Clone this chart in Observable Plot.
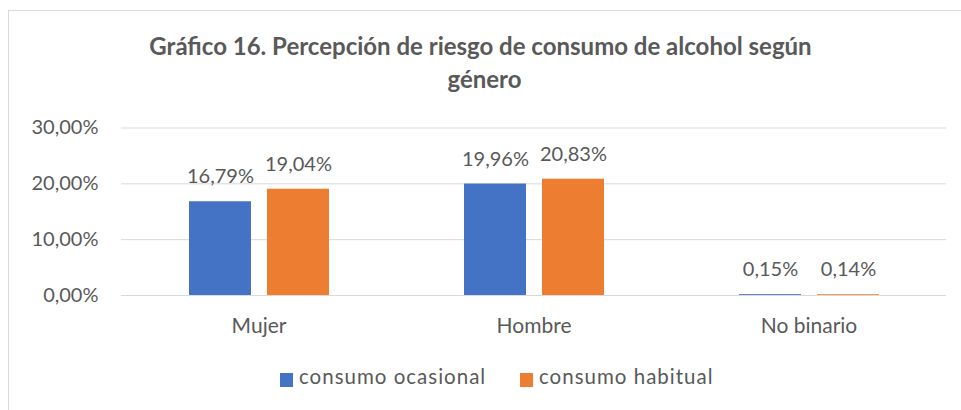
<!DOCTYPE html>
<html>
<head>
<meta charset="utf-8">
<script src="https://cdn.jsdelivr.net/npm/d3@7"></script>
<script src="https://cdn.jsdelivr.net/npm/@observablehq/plot@0.6"></script>
<style>
  html, body { margin: 0; padding: 0; background: #fff; }
  body { width: 961px; height: 410px; overflow: hidden; position: relative; font-family: Lato, "Open Sans", sans-serif; color: #595959; }
  #frame { position: absolute; left: 8px; top: 10px; width: 1000px; height: 500px; border-left: 1px solid #d9d9d9; border-top: 1px solid #d9d9d9; }
  .title { position: absolute; left: 0; width: 961px; text-align: center; font-weight: bold; font-size: 24px; line-height: 24px; color: #595959; white-space: nowrap; }
  #chart { position: absolute; left: 0; top: 110px; }
  .item { position: absolute; top: 373px; height: 14px; white-space: nowrap; font-size: 20.5px; letter-spacing: 1px; color: #595959; }
  .sw { position: absolute; left: 0; top: 0; width: 13px; height: 14px; }
  .lab { position: absolute; left: 19px; top: -9px; line-height: 24px; }
</style>
</head>
<body>
<div id="frame"></div>
<div class="title" id="t1" style="top:34px"></div>
<div class="title" id="t2" style="top:67px; left:4px"></div>
<div id="chart"></div>
<div id="legend"></div>
<script>
const titleLines = ["Gráfico 16. Percepción de riesgo de consumo de alcohol según", "género"];
const categories = ["Mujer", "Hombre", "No binario"];
const series = ["consumo ocasional", "consumo habitual"];
const ocasional = [16.79, 19.96, 0.15];
const habitual = [19.04, 20.83, 0.14];
const yTicks = [0, 10, 20, 30];
const colors = ["#4472C4", "#ED7D31"];

const rows = [];
categories.forEach((c, i) => {
  rows.push({cat: c, serie: series[0], value: ocasional[i]});
  rows.push({cat: c, serie: series[1], value: habitual[i]});
});

const fmt = (d, digits) => d.toFixed(digits).replace(".", ",") + "%";

document.getElementById("t1").textContent = titleLines[0];
document.getElementById("t2").textContent = titleLines[1];

const chart = Plot.plot({
  width: 961,
  height: 240,
  marginLeft: 120,
  marginRight: 15,
  marginTop: 17.5,
  marginBottom: 55,
  style: { fontFamily: "Lato, 'Open Sans', sans-serif", fontSize: "20px", color: "#595959", background: "transparent", overflow: "visible" },
  fx: { domain: categories, padding: 0, label: null },
  x: { domain: series, paddingInner: 0.21, paddingOuter: 0.865, axis: null },
  y: { domain: [0, 30], label: null },
  color: { domain: series, range: colors },
  marks: [
    Plot.gridY(yTicks, { stroke: "#d9d9d9", strokeOpacity: 1, strokeWidth: 1 }),
    Plot.axisY(yTicks, { tickSize: 0, tickPadding: 23, tickFormat: d => fmt(d, 2), fill: "#595959", fontSize: 20, label: null, style: "letter-spacing:1px" }),
    Plot.axisFx({ anchor: "bottom", tickSize: 0, tickPadding: 23, fill: "#595959", fontSize: 21, label: null, style: "letter-spacing:0.6px" }),
    Plot.barY(rows, { fx: "cat", x: "serie", y: "value", fill: "serie" }),
    Plot.text(rows, { fx: "cat", x: "serie", y: "value", text: d => fmt(d.value, 2), lineAnchor: "bottom", dy: -18.5, fill: "#595959", fontSize: 20, style: "letter-spacing:0.8px" })
  ]
});
document.getElementById("chart").appendChild(chart);

const legend = document.getElementById("legend");
const legendLeft = [280, 520];
series.forEach((s, i) => {
  const item = document.createElement("div");
  item.className = "item";
  item.style.left = legendLeft[i] + "px";
  const sw = document.createElement("span");
  sw.className = "sw";
  sw.style.background = colors[i];
  const lab = document.createElement("span");
  lab.className = "lab";
  lab.textContent = s;
  item.appendChild(sw);
  item.appendChild(lab);
  legend.appendChild(item);
});
</script>
</body>
</html>
